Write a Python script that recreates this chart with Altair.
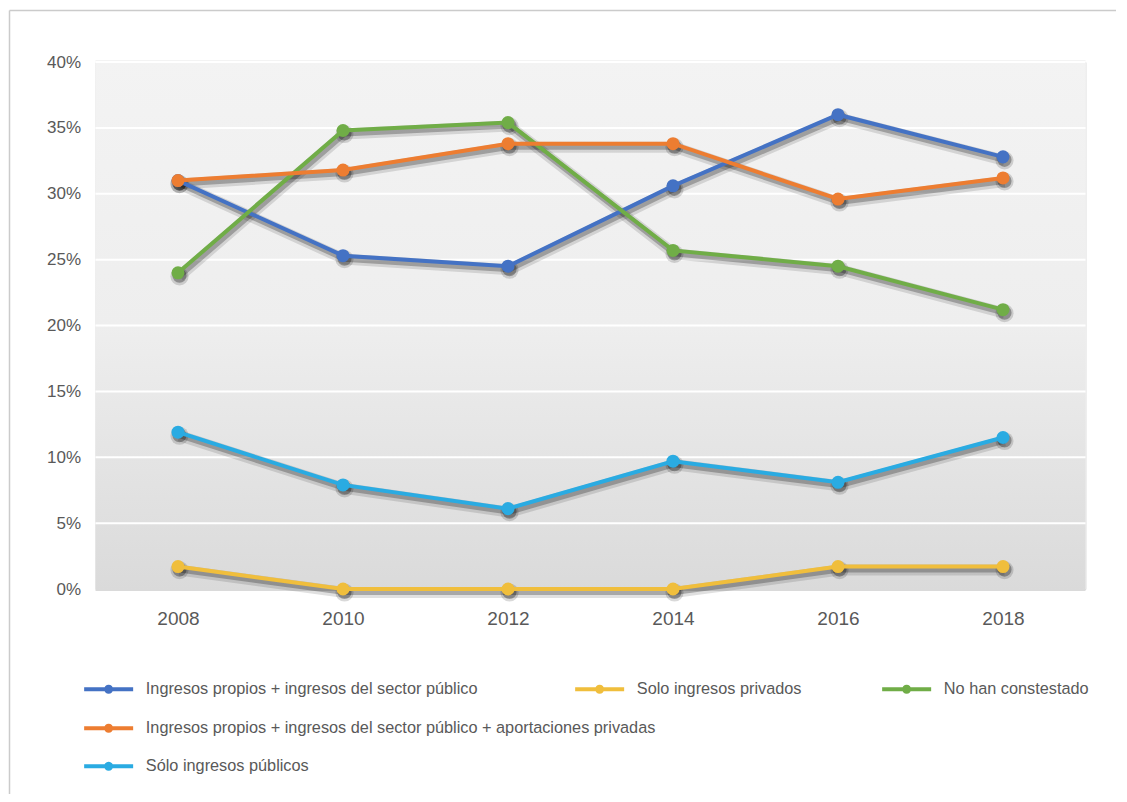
import altair as alt
import pandas as pd

years = ["2008", "2010", "2012", "2014", "2016", "2018"]
series = [
    "Ingresos propios + ingresos del sector público",
    "Solo ingresos privados",
    "No han constestado",
    "Ingresos propios + ingresos del sector público + aportaciones privadas",
    "Sólo ingresos públicos",
]
colors = ["#4472C4", "#F0BE3C", "#70AD47", "#ED7D31", "#2AABE2"]

v_propios_publico = [31.0, 25.3, 24.5, 30.6, 36.0, 32.8]
v_privados = [1.7, 0.0, 0.0, 0.0, 1.7, 1.7]
v_no_contestado = [24.0, 34.8, 35.4, 25.7, 24.5, 21.2]
v_propios_publico_priv = [31.0, 31.8, 33.8, 33.8, 29.6, 31.2]
v_publicos = [11.9, 7.9, 6.1, 9.7, 8.1, 11.5]
values = [v_propios_publico, v_privados, v_no_contestado, v_propios_publico_priv, v_publicos]

y_ticks = [0, 5, 10, 15, 20, 25, 30, 35, 40]
grid_vals = [5, 10, 15, 20, 25, 30, 35, 40]

# legend layout (offsets relative to plot origin)
legend_pos = [(5, 619), (496, 619), (803, 619), (5, 658), (5, 696)]

rows = []
for s, vals in zip(series, values):
    for yr, v in zip(years, vals):
        rows.append({"year": yr, "series": s, "value": v})
df = pd.DataFrame(rows)

W, H = 990, 527
FONT = "Liberation Sans"
TXT = "#595959"

x_enc = alt.X("year:O", scale=alt.Scale(type="point", padding=0.5, domain=years), title=None)
y_scale = alt.Scale(domain=[0, 40], nice=False, zero=True)
y_enc = alt.Y("value:Q", scale=y_scale, title=None)

one = pd.DataFrame({"a": [0]})

gradient = alt.LinearGradient(
    gradient="linear", x1=0, y1=0, x2=0, y2=1,
    stops=[alt.GradientStop(color="#f3f3f3", offset=0),
           alt.GradientStop(color="#eeeeee", offset=0.5),
           alt.GradientStop(color="#dadada", offset=1)],
)

bg = alt.Chart(one).mark_rect(fill=gradient).encode(
    x=alt.value(0), x2=alt.value(W), y=alt.value(-2), y2=alt.value(H + 2)
)

border_top = alt.Chart(one).mark_rule(color="#cbcbcb", strokeWidth=1.5).encode(
    x=alt.value(-86), x2=alt.value(1100), y=alt.value(-51.5)
)
border_left = alt.Chart(one).mark_rule(color="#cbcbcb", strokeWidth=1.5).encode(
    x=alt.value(-86), y=alt.value(-51.5), y2=alt.value(800)
)

grid = alt.Chart(pd.DataFrame({"value": grid_vals})).mark_rule(color="white", strokeWidth=2).encode(
    y=alt.Y("value:Q", scale=y_scale, title=None,
            axis=alt.Axis(values=y_ticks, labelExpr="datum.value + '%'", ticks=False, domain=False,
                          grid=False, labelFont=FONT, labelFontSize=17, labelColor=TXT,
                          labelPadding=15)),
    x=alt.value(0), x2=alt.value(W),
)

base = alt.Chart(df)
x_axis = alt.X("year:O", scale=alt.Scale(type="point", padding=0.5, domain=years), title=None,
               axis=alt.Axis(ticks=False, domain=False, grid=False, labelAngle=0, labelFont=FONT,
                             labelFontSize=19, labelColor=TXT, labelPadding=20))

shadow_wide = base.mark_line(color="black", opacity=0.12, strokeWidth=11, xOffset=1.5, yOffset=3.5).encode(
    x=x_axis, y=y_enc, detail="series:N")
shadow_line = base.mark_line(color="black", opacity=0.25, strokeWidth=6, xOffset=1.5, yOffset=3).encode(
    x=x_enc, y=y_enc, detail="series:N")
shadow_pt_wide = base.mark_circle(color="black", opacity=0.15, size=330, xOffset=1.5, yOffset=3.5).encode(
    x=x_enc, y=y_enc)
shadow_pt = base.mark_circle(color="black", opacity=0.3, size=200, xOffset=1.5, yOffset=3).encode(
    x=x_enc, y=y_enc)

sym_path = "M-4.9,-0.4H4.9V0.4H-4.9Z M0.9,0A0.9,0.9 0 1,1 -0.9,0A0.9,0.9 0 1,1 0.9,0Z"

series_layers = []
for s, c, (lx, ly) in zip(series, colors, legend_pos):
    color = alt.Color("series:N", scale=alt.Scale(domain=[s], range=[c]),
                      legend=alt.Legend(title=None, orient="none", legendX=lx, legendY=ly,
                                        symbolType=sym_path, symbolSize=100,
                                        symbolFillColor=c, symbolStrokeColor=c, symbolStrokeWidth=0,
                                        symbolOpacity=1, padding=0,
                                        labelFont=FONT, labelFontSize=16.3, labelColor=TXT,
                                        labelOffset=29, labelLimit=1000))
    sub = alt.Chart(df).transform_filter(alt.datum.series == s)
    ln = sub.mark_line(strokeWidth=4).encode(x=x_enc, y=y_enc, color=color)
    pt = sub.mark_circle(size=170, opacity=1).encode(x=x_enc, y=y_enc, color=color)
    series_layers.append(alt.layer(ln, pt))

chart = alt.layer(
    border_top, border_left, bg, grid, shadow_wide, shadow_line, shadow_pt_wide, shadow_pt,
    *series_layers
).resolve_scale(color="independent").properties(
    width=W, height=H,
    autosize=alt.AutoSizeParams(type="none"),
    padding={"left": 87.5, "top": 54, "right": 30, "bottom": 205},
).configure_view(stroke=None).configure(background="white")

chart.save("out.html", embed_options={"renderer": "svg", "actions": False})
